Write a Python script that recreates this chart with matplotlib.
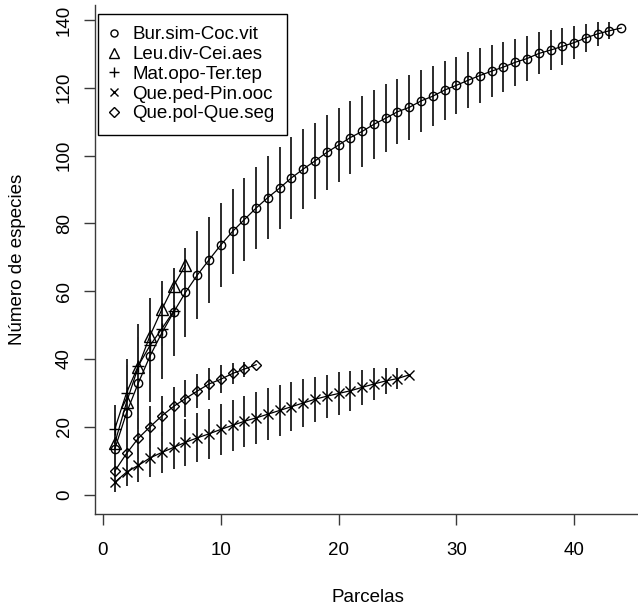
import matplotlib
matplotlib.use("Agg")
import matplotlib.pyplot as plt
from matplotlib.lines import Line2D
import numpy as np

plt.rcParams['font.family'] = ['Liberation Sans', 'DejaVu Sans']

# ---------------- data ----------------
series_names = ["Bur.sim-Coc.vit", "Leu.div-Cei.aes", "Mat.opo-Ter.tep",
                "Que.ped-Pin.ooc", "Que.pol-Que.seg"]

bur_richness = [13.4, 24.1, 32.9, 40.9, 47.7, 53.8, 59.6, 64.7, 69.2, 73.6,
                77.6, 81.1, 84.5, 87.6, 90.4, 93.4, 96.0, 98.4, 100.9, 103.1,
                105.3, 107.1, 109.2, 111.0, 112.9, 114.2, 116.1, 117.5, 119.3, 120.7,
                122.2, 123.6, 124.9, 126.1, 127.5, 128.6, 130.1, 131.1, 132.2, 133.3,
                134.7, 135.9, 136.8, 137.6]
bur_ci = [10.0, 12.5, 13.5, 13.5, 13.5, 13.0, 13.0, 13.0, 12.7, 12.5,
          12.5, 12.3, 12.2, 12.2, 12.0, 12.0, 11.8, 11.3, 11.1, 10.8,
          10.7, 10.4, 10.1, 10.0, 9.6, 9.5, 9.1, 8.9, 8.7, 8.4,
          8.2, 8.0, 7.6, 7.3, 6.9, 6.6, 6.2, 5.9, 5.4, 4.9,
          4.2, 3.6, 2.5, 0.0]

leu_richness = [15.1, 27.2, 37.7, 46.9, 54.6, 61.6, 67.6]
leu_ci = [9.0, 11.0, 12.5, 11.0, 8.5, 5.0, 0.0]

mat_richness = [19.3, 30.0, 38.0, 44.0, 48.9, 54.1]
mat_ci = [7.0, 10.0, 8.0, 7.0, 5.0, 0.0]

qped_richness = [3.6, 6.6, 8.6, 10.8, 12.4, 13.9, 15.4, 16.7, 17.9, 19.2,
                 20.4, 21.6, 22.6, 23.7, 24.8, 25.9, 27.0, 28.1, 29.0, 29.8,
                 30.6, 31.6, 32.6, 33.5, 34.2, 35.3]
qped_ci = [3.0, 4.0, 5.0, 5.5, 6.0, 6.3, 7.0, 7.2, 7.3, 7.4,
           7.5, 7.6, 7.7, 7.6, 7.5, 7.3, 7.0, 6.7, 6.4, 6.2,
           5.9, 5.2, 4.6, 3.8, 3.0, 0.0]

qpol_richness = [6.9, 12.1, 16.6, 20.0, 23.2, 26.0, 28.3, 30.5, 32.6, 34.0,
                 35.7, 37.0, 38.3]
qpol_ci = [4.0, 5.5, 6.0, 6.2, 6.0, 5.7, 5.4, 5.1, 4.8, 4.2, 3.2, 2.2, 0.0]

x_ticks = [0, 10, 20, 30, 40]
y_ticks = [0, 20, 40, 60, 80, 100, 120, 140]
x_label = "Parcelas"
y_label = "Número de especies"

# ---------------- figure / axes geometry ----------------
W, H = 638, 612
fig = plt.figure(figsize=(W / 100, H / 100), dpi=100)
ax_l, ax_r, ax_t, ax_b = 94.5, 641.5, 5.0, 514.0
ax = fig.add_axes([ax_l / W, 1 - ax_b / H, (ax_r - ax_l) / W, (ax_b - ax_t) / H])

ax.set_xlim(-0.72, 45.72)
ax.set_ylim(-5.75, 144.4)

all_series = [
    (bur_richness, bur_ci, dict(marker='o', markersize=6.0)),
    (leu_richness, leu_ci, dict(marker='^', markersize=8.0)),
    (mat_richness, mat_ci, dict(marker='+', markersize=9.0)),
    (qped_richness, qped_ci, dict(marker='x', markersize=7.0)),
    (qpol_richness, qpol_ci, dict(marker='D', markersize=5.6)),
]

handles = []
for name, (rich, ci, mstyle) in zip(series_names, all_series):
    rich = np.asarray(rich)
    ci = np.asarray(ci)
    sites = np.arange(1, len(rich) + 1)
    ax.vlines(sites, rich - ci, rich + ci, colors='#2b2b2b', linewidth=1.4, zorder=2)
    ax.plot(sites, rich, color='black', linewidth=0.9, markerfacecolor='none',
            markeredgecolor='black', markeredgewidth=1.0, zorder=3, **mstyle)
    handles.append(Line2D([], [], linestyle='none', color='black',
                          markerfacecolor='none', markeredgewidth=1.0,
                          **{k: (v * 0.85 if k == 'markersize' else v) for k, v in mstyle.items()},
                          label=name))

# ---------------- axes styling ----------------
for s in ['top', 'right']:
    ax.spines[s].set_visible(False)
for s in ['left', 'bottom']:
    ax.spines[s].set_color('#3a3a3a')
    ax.spines[s].set_linewidth(1.0)

ax.set_xticks(x_ticks)
ax.set_yticks(y_ticks)
ax.set_xticklabels([str(v) for v in x_ticks])
ax.set_yticklabels([str(v) for v in y_ticks], rotation=90, va='center')
ax.tick_params(axis='both', direction='out', length=8, width=1.0, color='#3a3a3a',
               labelsize=13.5, labelcolor='black')
ax.tick_params(axis='x', pad=12.0)
ax.tick_params(axis='y', pad=7.5)

fig.text((ax_l + ax_r) / 2 / W, 1 - 597 / H, x_label, ha='center', va='center', fontsize=13.5)
fig.text(18 / W, 1 - (ax_t + ax_b) / 2 / H, y_label, ha='center', va='center',
         rotation=90, fontsize=13.5)

# ---------------- legend ----------------
leg_x = (97.7 - ax_l) / (ax_r - ax_l)
leg_y = (ax_b - 14) / (ax_b - ax_t)
leg = ax.legend(handles=handles, loc='upper left', bbox_to_anchor=(leg_x, leg_y),
                borderaxespad=0, fontsize=13.5, frameon=True, fancybox=False,
                framealpha=1, edgecolor='black', borderpad=0.65, handlelength=0.4,
                handletextpad=0.8, labelspacing=0.14)
leg.get_frame().set_linewidth(1.0)

fig.savefig("out.png", dpi=100)
